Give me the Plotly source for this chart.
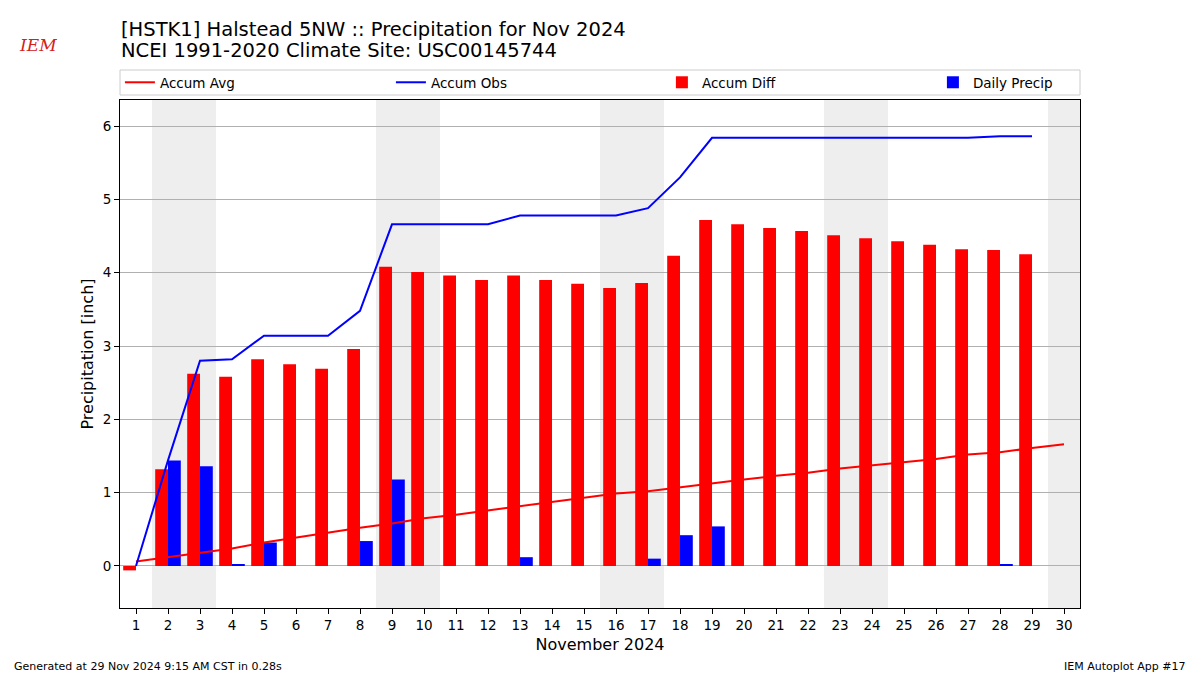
import plotly.graph_objects as go

# ---- data ----
days = list(range(1, 31))
obs_days = list(range(1, 30))
daily_precip = [0.00, 1.44, 1.36, 0.02, 0.32, 0.00, 0.00, 0.34, 1.18, 0.00,
                0.00, 0.00, 0.12, 0.00, 0.00, 0.00, 0.10, 0.42, 0.54, 0.00,
                0.00, 0.00, 0.00, 0.00, 0.00, 0.00, 0.00, 0.02, 0.00]
accum_obs = [0.00, 1.44, 2.80, 2.82, 3.14, 3.14, 3.14, 3.48, 4.66, 4.66,
             4.66, 4.66, 4.78, 4.78, 4.78, 4.78, 4.88, 5.30, 5.84, 5.84,
             5.84, 5.84, 5.84, 5.84, 5.84, 5.84, 5.84, 5.86, 5.86]
accum_avg = [0.06, 0.12, 0.18, 0.24, 0.32, 0.39, 0.45, 0.52, 0.58, 0.65,
             0.70, 0.76, 0.82, 0.88, 0.93, 0.99, 1.02, 1.07, 1.12, 1.18,
             1.23, 1.27, 1.33, 1.37, 1.41, 1.46, 1.52, 1.55, 1.61, 1.66]
accum_diff = [-0.06, 1.32, 2.62, 2.58, 2.82, 2.75, 2.69, 2.96, 4.08, 4.01,
              3.96, 3.90, 3.96, 3.90, 3.85, 3.79, 3.86, 4.23, 4.72, 4.66,
              4.61, 4.57, 4.51, 4.47, 4.43, 4.38, 4.32, 4.31, 4.25]
weekend_spans = [(1.5, 3.5), (8.5, 10.5), (15.5, 17.5), (22.5, 24.5), (29.5, 30.5)]
y_ticks = [0, 1, 2, 3, 4, 5, 6]

FONT = "DejaVu Sans"
W, H = 1200, 675
L, R, T, B = 120, 120, 100, 67
PW, PH = W - L - R, H - T - B


def px_x(p):
    return (p - L) / PW


def px_y(p):
    return (H - B - p) / PH


fig = go.Figure()

fig.add_trace(go.Bar(x=obs_days, y=accum_diff, name="Accum Diff",
                     marker=dict(color="#ff0000", line=dict(width=0)),
                     width=0.4, offset=-0.4, legendrank=3))
fig.add_trace(go.Bar(x=obs_days, y=daily_precip, name="Daily Precip",
                     marker=dict(color="#0000ff", line=dict(width=0)),
                     width=0.4, offset=0.0, legendrank=4))
fig.add_trace(go.Scatter(x=days, y=accum_avg, name="Accum Avg", mode="lines",
                         line=dict(color="#ff0000", width=2), legendrank=1))
fig.add_trace(go.Scatter(x=obs_days, y=accum_obs, name="Accum Obs", mode="lines",
                         line=dict(color="#0000ff", width=2), legendrank=2))

for a, b in weekend_spans:
    fig.add_vrect(x0=a, x1=b, fillcolor="#eeeeee", line_width=0, layer="below")

# legend frame
fig.add_shape(type="rect", xref="paper", yref="paper",
              x0=0, x1=1, y0=px_y(95), y1=px_y(70),
              line=dict(color="#cccccc", width=1), fillcolor="rgba(255,255,255,0.8)",
              layer="below")

annotations = [
    dict(text="[HSTK1] Halstead 5NW :: Precipitation for Nov 2024", x=px_x(119), y=px_y(29),
         xanchor="left", yanchor="middle", font=dict(size=19.5, family=FONT, color="black")),
    dict(text="NCEI 1991-2020 Climate Site: USC00145744", x=px_x(119), y=px_y(51),
         xanchor="left", yanchor="middle", font=dict(size=19.5, family=FONT, color="black")),
    dict(text="Generated at 29 Nov 2024 9:15 AM CST in 0.28s", x=px_x(12), y=px_y(666),
         xanchor="left", yanchor="middle", font=dict(size=11, family=FONT, color="black")),
    dict(text="IEM Autoplot App #17", x=px_x(1188), y=px_y(666),
         xanchor="right", yanchor="middle", font=dict(size=11, family=FONT, color="black")),
    dict(text="IEM", x=px_x(38), y=px_y(45),
         xanchor="center", yanchor="middle",
         font=dict(size=17, family="DejaVu Serif", color="#d42020", style="italic")),
]
for an in annotations:
    an.update(xref="paper", yref="paper", showarrow=False)

fig.update_layout(
    width=W, height=H,
    margin=dict(l=L, r=R, t=T, b=B, autoexpand=False),
    paper_bgcolor="white", plot_bgcolor="white",
    font=dict(family=FONT, size=13.5, color="black"),
    barmode="overlay",
    showlegend=True,
    legend=dict(orientation="h", x=-0.0001, xanchor="left", y=px_y(82.5), yanchor="middle",
                bgcolor="rgba(0,0,0,0)", borderwidth=0,
                entrywidth=226, entrywidthmode="pixels",
                font=dict(size=13.5, family=FONT), itemclick=False),
    annotations=annotations,
)

fig.update_xaxes(range=[0.5, 30.5], tickmode="array", tickvals=days,
                 ticktext=[str(d) for d in days], ticks="outside", ticklen=5,
                 tickcolor="black", showline=True, linecolor="black", linewidth=1,
                 mirror=True, showgrid=False, zeroline=False,
                 title=dict(text="November 2024", font=dict(size=16, family=FONT), standoff=6),
                 tickfont=dict(size=13.5))
fig.update_yaxes(range=[-0.573, 6.355], tickmode="array", tickvals=y_ticks,
                 ticktext=[str(v) for v in y_ticks], ticks="outside", ticklen=5,
                 tickcolor="black", showline=True, linecolor="black", linewidth=1,
                 mirror=True, showgrid=True, gridcolor="#b0b0b0", gridwidth=1,
                 zeroline=False,
                 title=dict(text="Precipitation [inch]", font=dict(size=16, family=FONT), standoff=5),
                 tickfont=dict(size=13.5))

fig.write_html("out.html", config={"displayModeBar": False},
               post_script="document.body.style.margin='0px';document.body.style.padding='0px';")
